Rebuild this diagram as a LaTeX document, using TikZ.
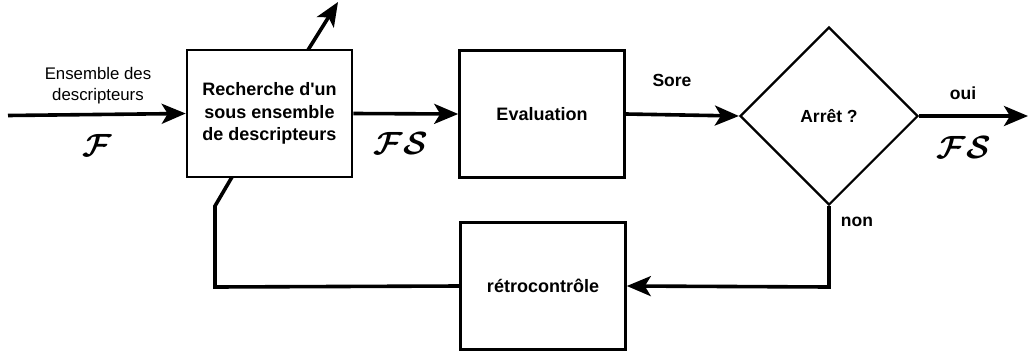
\documentclass[tikz,border=0pt]{standalone}
\usepackage{amsmath}
\usepackage{fontspec}
\setmainfont{Liberation Sans}
\usetikzlibrary{arrows.meta,shapes.geometric,calc}
\newcommand{\calsym}[1]{\scalebox{1.55}{$\boldsymbol{\mathcal{#1}}$}}
\begin{document}
\begin{tikzpicture}[x=1pt,y=-1pt,
  block/.style={draw,line width=2.6pt,minimum width=165pt,minimum height=127pt,
    font=\fontsize{18}{22.5}\selectfont\bfseries,align=center,inner sep=0pt},
  decide/.style={draw,diamond,aspect=1,line width=2.2pt,minimum width=178pt,
    minimum height=178pt,inner sep=0pt,font=\fontsize{17.5}{22}\selectfont\bfseries},
  flow/.style={line width=3.6pt,-{Stealth[length=24pt,width=20pt,inset=6pt]}},
  link/.style={line width=3.6pt},
  lbl/.style={font=\fontsize{17.5}{21}\selectfont\bfseries},
  note/.style={font=\fontsize{16.8}{21}\selectfont,align=center},
  sym/.style={font=\fontsize{20.74}{24}\selectfont}]
\useasboundingbox (0,0) rectangle (1030,351);

% blocks
\node[block] (rech) at (269.5,113.5) {Recherche d\textquotesingle un\\sous ensemble\\de descripteurs};
\node[block] (eval) at (542,114) {Evaluation};
\node[decide] (stop) at (829,116) {Arrêt ?};
\node[block] (retro) at (543,286) {rétrocontrôle};

% free ends
\coordinate (in) at (8,115.5);
\coordinate (out) at (1028,116);
\coordinate (up) at (338,2);
\coordinate (upfoot) at (308,50);
\coordinate (downfoot) at (232,177);
\coordinate (bend) at (215,206);
\coordinate (corner) at (215,287);
\coordinate (ncorner) at (829,287);

% main flow
\draw[flow] (in) -- (rech.west);
\draw[flow] (rech.east) -- (eval.west);
\draw[flow] (eval.east) -- (stop.west);
\draw[flow] (stop.east) -- (out);
\draw[flow] (upfoot) -- (up);

% feedback loop
\draw[flow] (stop.south) -- (ncorner) -- (retro.east);
\draw[link,line join=miter] (retro.west) -- (corner) -- (bend) -- (downfoot);

% labels
\node[note] at (98,86) {Ensemble des\\descripteurs};
\node[sym] at (97,145) {\calsym{F}};
\node[sym] at (401,143) {\calsym{FS}};
\node[lbl] at (672,80) {Sore};
\node[lbl] at (963,93) {oui};
\node[sym] at (964,147) {\calsym{FS}};
\node[lbl] at (857,222) {non};
\end{tikzpicture}
\end{document}
